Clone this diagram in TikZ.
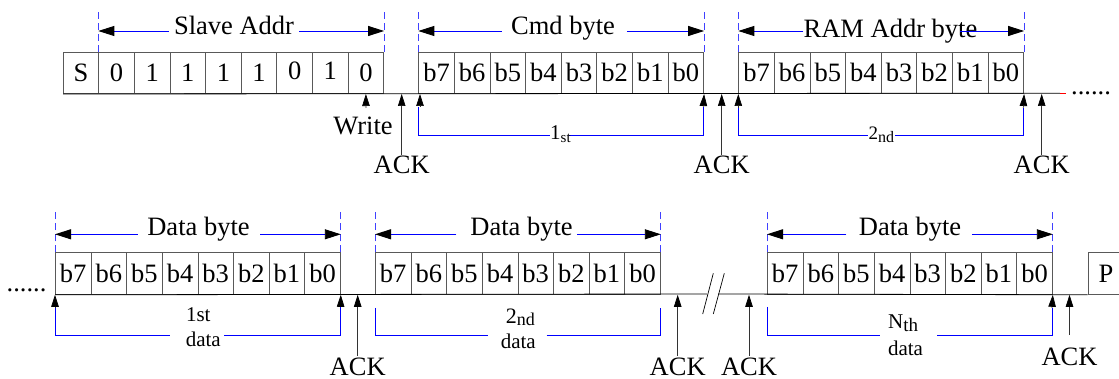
\documentclass[tikz,border=0pt]{standalone}
\usepackage{fontspec}
\setmainfont{Liberation Serif}
\usetikzlibrary{arrows.meta}
\newcommand{\myfs}[1]{\fontsize{#1}{#1}\selectfont}
\newcommand{\myup}[1]{\raisebox{2.7pt}[0.676em][0pt]{#1}}
\begin{document}
\begin{tikzpicture}[x=1pt,y=-1pt,
  cell/.style={draw=black!65, line width=0.8pt, minimum width=35.625pt, minimum height=41.5pt, inner sep=0pt, anchor=north west, font=\myfs{26.5}},
  lbl/.style={inner sep=0pt, font=\myfs{26.5}, anchor=base},
  smalllbl/.style={inner sep=0pt, font=\myfs{21}, anchor=base},
  barrow/.style={draw=blue, line width=0.9pt, -{Triangle[length=16pt,width=10pt,color=black]}},
  sarrow/.style={draw=black!80, line width=0.7pt, -{Triangle[length=12pt,width=7.5pt,color=black]}},
  bdash/.style={draw=blue!75, line width=0.8pt, dash pattern=on 7pt off 4pt},
  brk/.style={draw=blue, line width=0.9pt},
  wire/.style={draw=black, line width=0.8pt}]
\useasboundingbox (0,0) rectangle (1119,379);
% ---------------- top row ----------------
\node[cell, minimum width=35.3pt] (s) at (63,51.7) {S};
\foreach \t [count=\i] in {0,1,1,1,1,{\myup{0}},{\myup{1}},0}
  \node[cell] (ad\i) at ({98.3+(\i-1)*35.625},51.7) {\t};
\foreach \t [count=\i] in {b7,b6,b5,b4,b3,b2,b1,b0}{
  \node[cell] (cm\i) at ({418.3+(\i-1)*35.625},51.7) {\t};
  \node[cell] (ra\i) at ({738.3+(\i-1)*35.625},51.7) {\t};
  \node[cell] (da\i) at ({55+(\i-1)*35.625},252.5) {\t};
  \node[cell] (db\i) at ({375+(\i-1)*35.625},252.5) {\t};
  \node[cell] (dc\i) at ({767+(\i-1)*35.625},252.5) {\t};
}
\node[cell, minimum width=36pt] (pb) at (1087.7,252.5) {P};
% wires
\coordinate (tEnd) at (1060,93.2);
\draw[wire] (s.south west) -- (tEnd);
\draw[red, line width=0.8pt] (tEnd) -- ++(6,0);
\node[lbl, anchor=base west] (tdots) at (1071,94.6) {......};
\node[lbl, anchor=base west] (bdots) at (6.5,291.3) {......};
\coordinate (g1) at (707,294);
\coordinate (g2) at (718,294);
\draw[wire] (da1.south west) -- (g1);
\draw[wire] (g2) -- (pb.south west);
\draw[wire, line width=0.7pt] (702.7,314) -- (713.3,273.3);
\draw[wire, line width=0.7pt] (713.3,314) -- (724.3,273.3);
% dashed markers
\foreach \n in {ad1.north west,ad8.north east,cm1.north west,cm8.north east,ra1.north west,ra8.north east}
  \draw[bdash] (\n) -- ++(0,-41.7);
\foreach \n in {da1.north west,da8.north east,db1.north west,db8.north east,dc1.north west,dc8.north east}
  \draw[bdash] (\n) -- ++(0,-41.5);
% top span arrows
\coordinate (yA) at (0,31);
\node[lbl] (tsa) at (234,35) {Slave Addr};
\draw[barrow] ([xshift=-5pt]tsa.west |- yA) -- (ad1.north west |- yA);
\draw[barrow] ([xshift=5pt]tsa.east |- yA) -- (ad8.north east |- yA);
\node[lbl] (tcm) at (563,35) {Cmd byte};
\draw[barrow] ([xshift=-9.4pt]tcm.west |- yA) -- (cm1.north west |- yA);
\draw[barrow] ([xshift=11.8pt]tcm.east |- yA) -- (cm8.north east |- yA);
\node[lbl] (tra) at (890.5,37.7) {RAM Addr byte};
\draw[barrow] (tra.west |- yA) -- (ra1.north west |- yA);
\draw[barrow] ([xshift=-17.4pt]tra.east |- yA) -- (ra8.north east |- yA);
% bottom span arrows
\coordinate (yB) at (0,234.3);
\node[lbl] (tda) at (198.5,235.5) {Data byte};
\draw[barrow] ([xshift=-9.4pt]tda.west |- yB) -- (da1.north west |- yB);
\draw[barrow] ([xshift=10.4pt]tda.east |- yB) -- (da8.north east |- yB);
\node[lbl] (tdb) at (521.5,235.5) {Data byte};
\draw[barrow] ([xshift=-13.7pt]tdb.west |- yB) -- (db1.north west |- yB);
\draw[barrow] ([xshift=4.4pt]tdb.east |- yB) -- (db8.north east |- yB);
\node[lbl] (tdc) at (910,235.5) {Data byte};
\draw[barrow] ([xshift=-12.2pt]tdc.west |- yB) -- (dc1.north west |- yB);
\draw[barrow] ([xshift=10.6pt]tdc.east |- yB) -- (dc8.north east |- yB);
% Write and ACKs top
\node[lbl] (wr) at (363,135) {Write};
\coordinate (wrT) at (366,108);
\draw[sarrow] (wrT) -- (ad8.south);
\node[lbl] (ack1) at (401.7,174) {ACK};
\node[lbl] (ack2) at (721.7,174) {ACK};
\node[lbl] (ack3) at (1041.7,174) {ACK};
\foreach \a in {ack1,ack2,ack3}
  \draw[sarrow] ([yshift=1.5pt]\a.north) -- (\a.north |- s.south);
% top brackets
\draw[brk] (418.5,107) -- (418.5,135) -- (550,135);
\draw[brk] (568.5,135) -- (703.3,135) -- (703.3,107);
\coordinate (k1) at (420,107);
\coordinate (k2) at (703.3,107);
\draw[sarrow] (k1) -- (k1 |- cm1.south);
\draw[sarrow] (k2) -- (cm8.south east);
\node[anchor=base west, inner sep=0pt] (l1st) at (550,139.3) {\myfs{21}1\raisebox{-3.4pt}{\myfs{15}st}};
\draw[brk] (738.3,108) -- (738.3,135) -- (868.3,135);
\draw[brk] (895,135) -- (1023.3,135) -- (1023.3,108);
\coordinate (k3) at (738.3,108);
\coordinate (k4) at (1023.3,108);
\draw[sarrow] (k3) -- (ra1.south west);
\draw[sarrow] (k4) -- (ra8.south east);
\node[anchor=base west, inner sep=0pt] (l2nd) at (868.5,140) {\myfs{19}2\raisebox{-2.7pt}{\myfs{16}nd}};
% bottom brackets
\draw[brk] (55,307) -- (55,335) -- (170,335);
\draw[brk] (224,335) -- (340.6,335) -- (340.6,307);
\coordinate (k5) at (55,307);
\coordinate (k6) at (340.6,307);
\draw[sarrow] (k5) -- (da1.south west);
\draw[sarrow] (k6) -- (da8.south east);
\node[smalllbl] (b1a) at (198.3,321.7) {1st};
\node[smalllbl] (b1b) at (203.3,346.7) {data};
\draw[brk] (375,308) -- (375,335) -- (488,335);
\draw[brk] (546.7,335) -- (660,335) -- (660,308);
\node[anchor=base west, inner sep=0pt] (b2a) at (505.7,323.3) {\myfs{22}2\raisebox{-1.7pt}{\myfs{18}nd}};
\node[smalllbl] (b2b) at (518.3,348.3) {data};
\draw[brk] (767,307) -- (767,335) -- (880,335);
\draw[brk] (937.3,335) -- (1052,335) -- (1052,308);
\coordinate (k7) at (1052,308);
\draw[sarrow] (k7) -- (dc8.south east);
\node[anchor=base west, inner sep=0pt] (b3a) at (888,328.3) {\myfs{21}N\raisebox{-3.4pt}{\myfs{19}th}};
\node[smalllbl] (b3b) at (905.5,355) {data};
% bottom ACKs
\node[lbl] (ack4) at (357.7,375) {ACK};
\node[lbl] (ack5) at (677.7,375) {ACK};
\node[lbl] (ack6) at (749,375) {ACK};
\foreach \a in {ack4,ack5,ack6}
  \draw[sarrow] ([yshift=1.5pt]\a.north) -- (\a.north |- da1.south);
\node[lbl] (ack7) at (1069.5,365) {ACK};
\coordinate (k8) at (1069.5,335);
\draw[sarrow] (k8) -- (k8 |- pb.south);
\end{tikzpicture}
\end{document}
